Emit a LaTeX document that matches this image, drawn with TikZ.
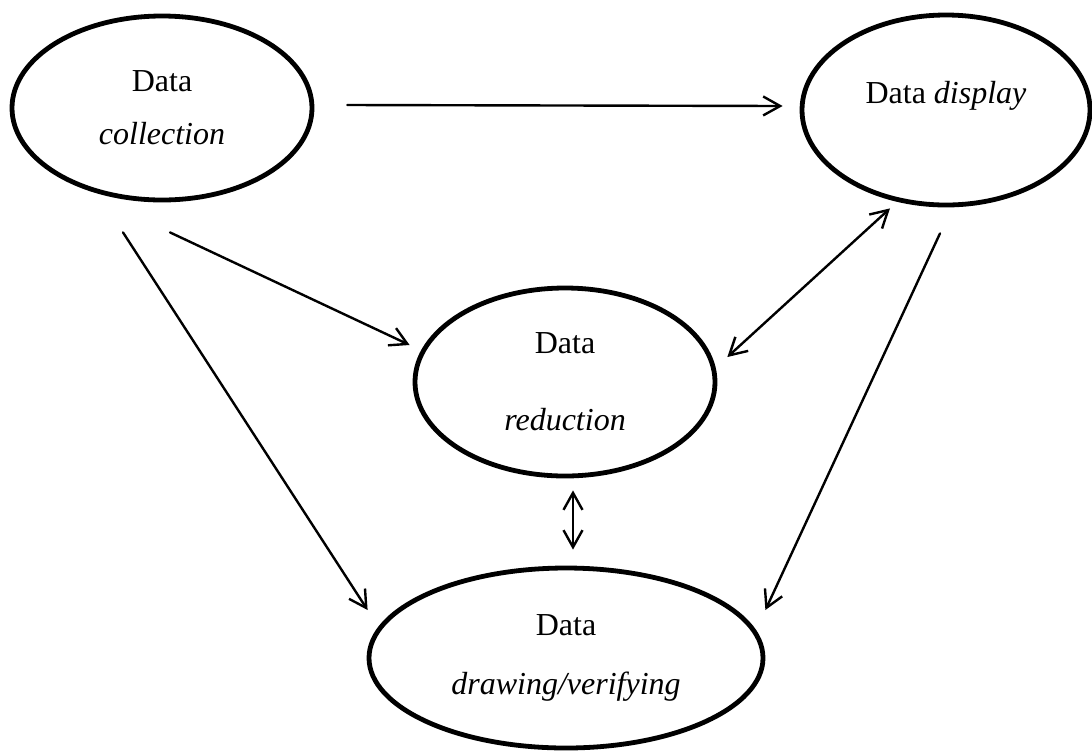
\documentclass[tikz,border=0pt]{standalone}
\usepackage{fontspec}
\setmainfont{Liberation Serif}
\usetikzlibrary{shapes.geometric, arrows.meta, calc}

\begin{document}
\begin{tikzpicture}[x=0.5pt,y=-0.5pt,
  >={Straight Barb[length=8.5pt,width=9.5pt]},
  stage/.style={ellipse, draw, line width=2.4pt, inner sep=0pt, align=center,
    font=\fontsize{16}{19}\selectfont},
  flow/.style={line width=1.2pt, line cap=round, ->}]
\useasboundingbox (0,0) rectangle (1092,751);

% the four stages
\node[stage, minimum width=150pt, minimum height=92pt] (collection) at (162,108)
  {Data\\[7.5pt]\textit{collection}};
\node[stage, minimum width=144pt, minimum height=95pt, text depth=18pt] (display) at (946,110)
  {Data \textit{display}};
\node[stage, minimum width=150pt, minimum height=94pt] (reduction) at (565,382)
  {Data\\[19.5pt]\textit{reduction}};
\node[stage, minimum width=197pt, minimum height=90pt] (drawing) at (566,658)
  {Data\\[10.5pt]\textit{drawing/verifying}};

% flows between them
\draw[flow] ($(collection.east)+(33,-3)$) -- ($(display.west)+(-17,-4)$);
\draw[flow] ($(collection.south)+(8,30)$) -- ($(reduction.west)+(-3,-37)$);
\draw[flow] ($(collection.south)+(-39,30)$) -- ($(drawing.west)+(1,-48)$);
\draw[flow, <->] ($(display.south)+(-56,1)$) -- ($(reduction.east)+(10,-25)$);
\draw[flow] ($(display.south)+(-6,26)$) -- ($(drawing.east)+(0,-48)$);
\draw[flow, <->] ($(reduction.south)+(8,12)$) -- ($(drawing.north)+(7,-16)$);
\end{tikzpicture}
\end{document}
